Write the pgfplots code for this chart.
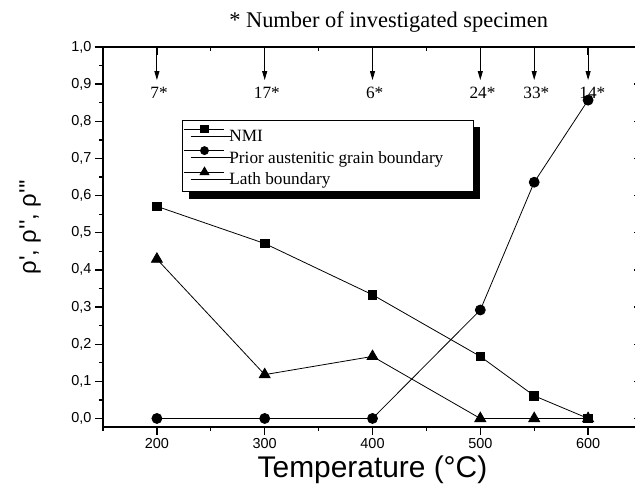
\documentclass[border=0pt]{standalone}
\usepackage{pgfplots}
\pgfplotsset{compat=1.18}
\usepackage{fontspec}
\setmainfont{Liberation Serif}
\newfontfamily\arial{Liberation Sans}
\usetikzlibrary{arrows.meta,shadows}

\begin{document}
\begin{tikzpicture}
% common frame settings
\pgfplotsset{
  frame/.style={
    scale only axis, width=539bp, height=380bp,
    xmin=150, xmax=650, ymin=-0.023, ymax=1.0,
    xtick={200,300,400,500,600},
    minor xtick={150,250,350,450,550,650},
    ytick={0,0.1,0.2,0.3,0.4,0.5,0.6,0.7,0.8,0.9,1.0},
    minor ytick={0.05,0.15,0.25,0.35,0.45,0.55,0.65,0.75,0.85,0.95},
    major tick length=8bp, minor tick length=4bp,
    every tick/.style={black, line width=1.3bp},
    axis line style={-, line width=1.6bp},
  },
  % origin-style legend sample: line with the mark in the middle
  legimg/.style={legend image code/.code={
    \draw[##1,mark size=#1,mark repeat=2,mark phase=2]
      plot coordinates {(0bp,5.5bp) (20.5bp,5.5bp) (40bp,5.5bp)};
  }},
}
\tikzset{
  specarrow/.style={line width=0.9bp, -{Triangle[length=9bp,width=5bp]}},
  speclabel/.style={font=\fontsize{17.3}{20}\selectfont},
}
\begin{axis}[
  frame, name=main,
  clip mode=individual,
  axis x line*=bottom, axis y line*=left,
  tick align=outside,
  /pgf/number format/assume math mode=true,
  tick label style={font=\arial\fontsize{14.5}{16}\selectfont},
  yticklabel style={/pgf/number format/.cd, fixed, fixed zerofill, precision=1, use comma},
  xticklabel style={/pgf/number format/.cd, fixed, precision=0, 1000 sep={}},
  xlabel={Temperature (°C)},
  xlabel style={font=\arial\fontsize{30}{32}\selectfont, at={(axis description cs:0.5,-0.113)}, anchor=center},
  ylabel={ρ', ρ'', ρ'''},
  ylabel style={font=\arial\fontsize{24}{26}\selectfont, at={(axis description cs:-0.135,0.526)}, anchor=center},
  legend cell align=left,
  legend style={
    at={(0.146,0.808)}, anchor=north west,
    draw=black, line width=0.8bp, inner sep=1.5bp,
    drop shadow={shadow xshift=7bp, shadow yshift=-7bp, fill=black, opacity=1},
    font=\fontsize{17.3}{20}\selectfont,
    nodes={inner sep=1bp, text height=19bp, text depth=4.5bp},
    row sep=-4bp,
    /tikz/every odd column/.append style={column sep=4bp},
  },
]
\addplot[black, line width=0.8bp, mark=square*, mark size=4.35bp, legimg=3.6bp] coordinates {
  (200,0.571) (300,0.471) (400,0.333) (500,0.167) (550,0.061) (600,0.0)
};
\addplot[black, line width=0.8bp, mark=*, mark size=5bp, legimg=4bp] coordinates {
  (200,0.0) (300,0.0) (400,0.0) (500,0.292) (550,0.636) (600,0.857)
};
\addplot[black, line width=0.8bp, mark=triangle*, mark size=6.3bp, legimg=5bp] coordinates {
  (200,0.429) (300,0.118) (400,0.167) (500,0.0) (550,0.0) (600,0.0)
};
\legend{\makebox[241bp][l]{NMI},\makebox[241bp][l]{Prior austenitic grain boundary},\makebox[241bp][l]{Lath boundary}}

% specimen counts
\draw[specarrow] (axis cs:200,1.0) -- (axis cs:200,0.911);
\draw[specarrow] (axis cs:300,1.0) -- (axis cs:300,0.911);
\draw[specarrow] (axis cs:400,1.0) -- (axis cs:400,0.911);
\draw[specarrow] (axis cs:500,1.0) -- (axis cs:500,0.911);
\draw[specarrow] (axis cs:550,1.0) -- (axis cs:550,0.911);
\draw[specarrow] (axis cs:600,1.0) -- (axis cs:600,0.911);
\node[speclabel] at (axis cs:202,0.876) {7*};
\node[speclabel] at (axis cs:302,0.876) {17*};
\node[speclabel] at (axis cs:402,0.876) {6*};
\node[speclabel] at (axis cs:502,0.876) {24*};
\node[speclabel] at (axis cs:552,0.876) {33*};
\node[speclabel] at (axis cs:604,0.876) {14*};
\node[font=\fontsize{22.5}{25}\selectfont] at (axis description cs:0.53,1.066) {* Number of investigated specimen};
\end{axis}

\begin{axis}[
  frame,
  axis x line*=top, axis y line*=right,
  tick align=inside,
  xticklabels={}, yticklabels={},
]
\end{axis}

\pgfresetboundingbox
\path ([xshift=-103bp,yshift=-72bp]main.south west) rectangle ([xshift=-7bp,yshift=47bp]main.north east);
\end{tikzpicture}
\end{document}
